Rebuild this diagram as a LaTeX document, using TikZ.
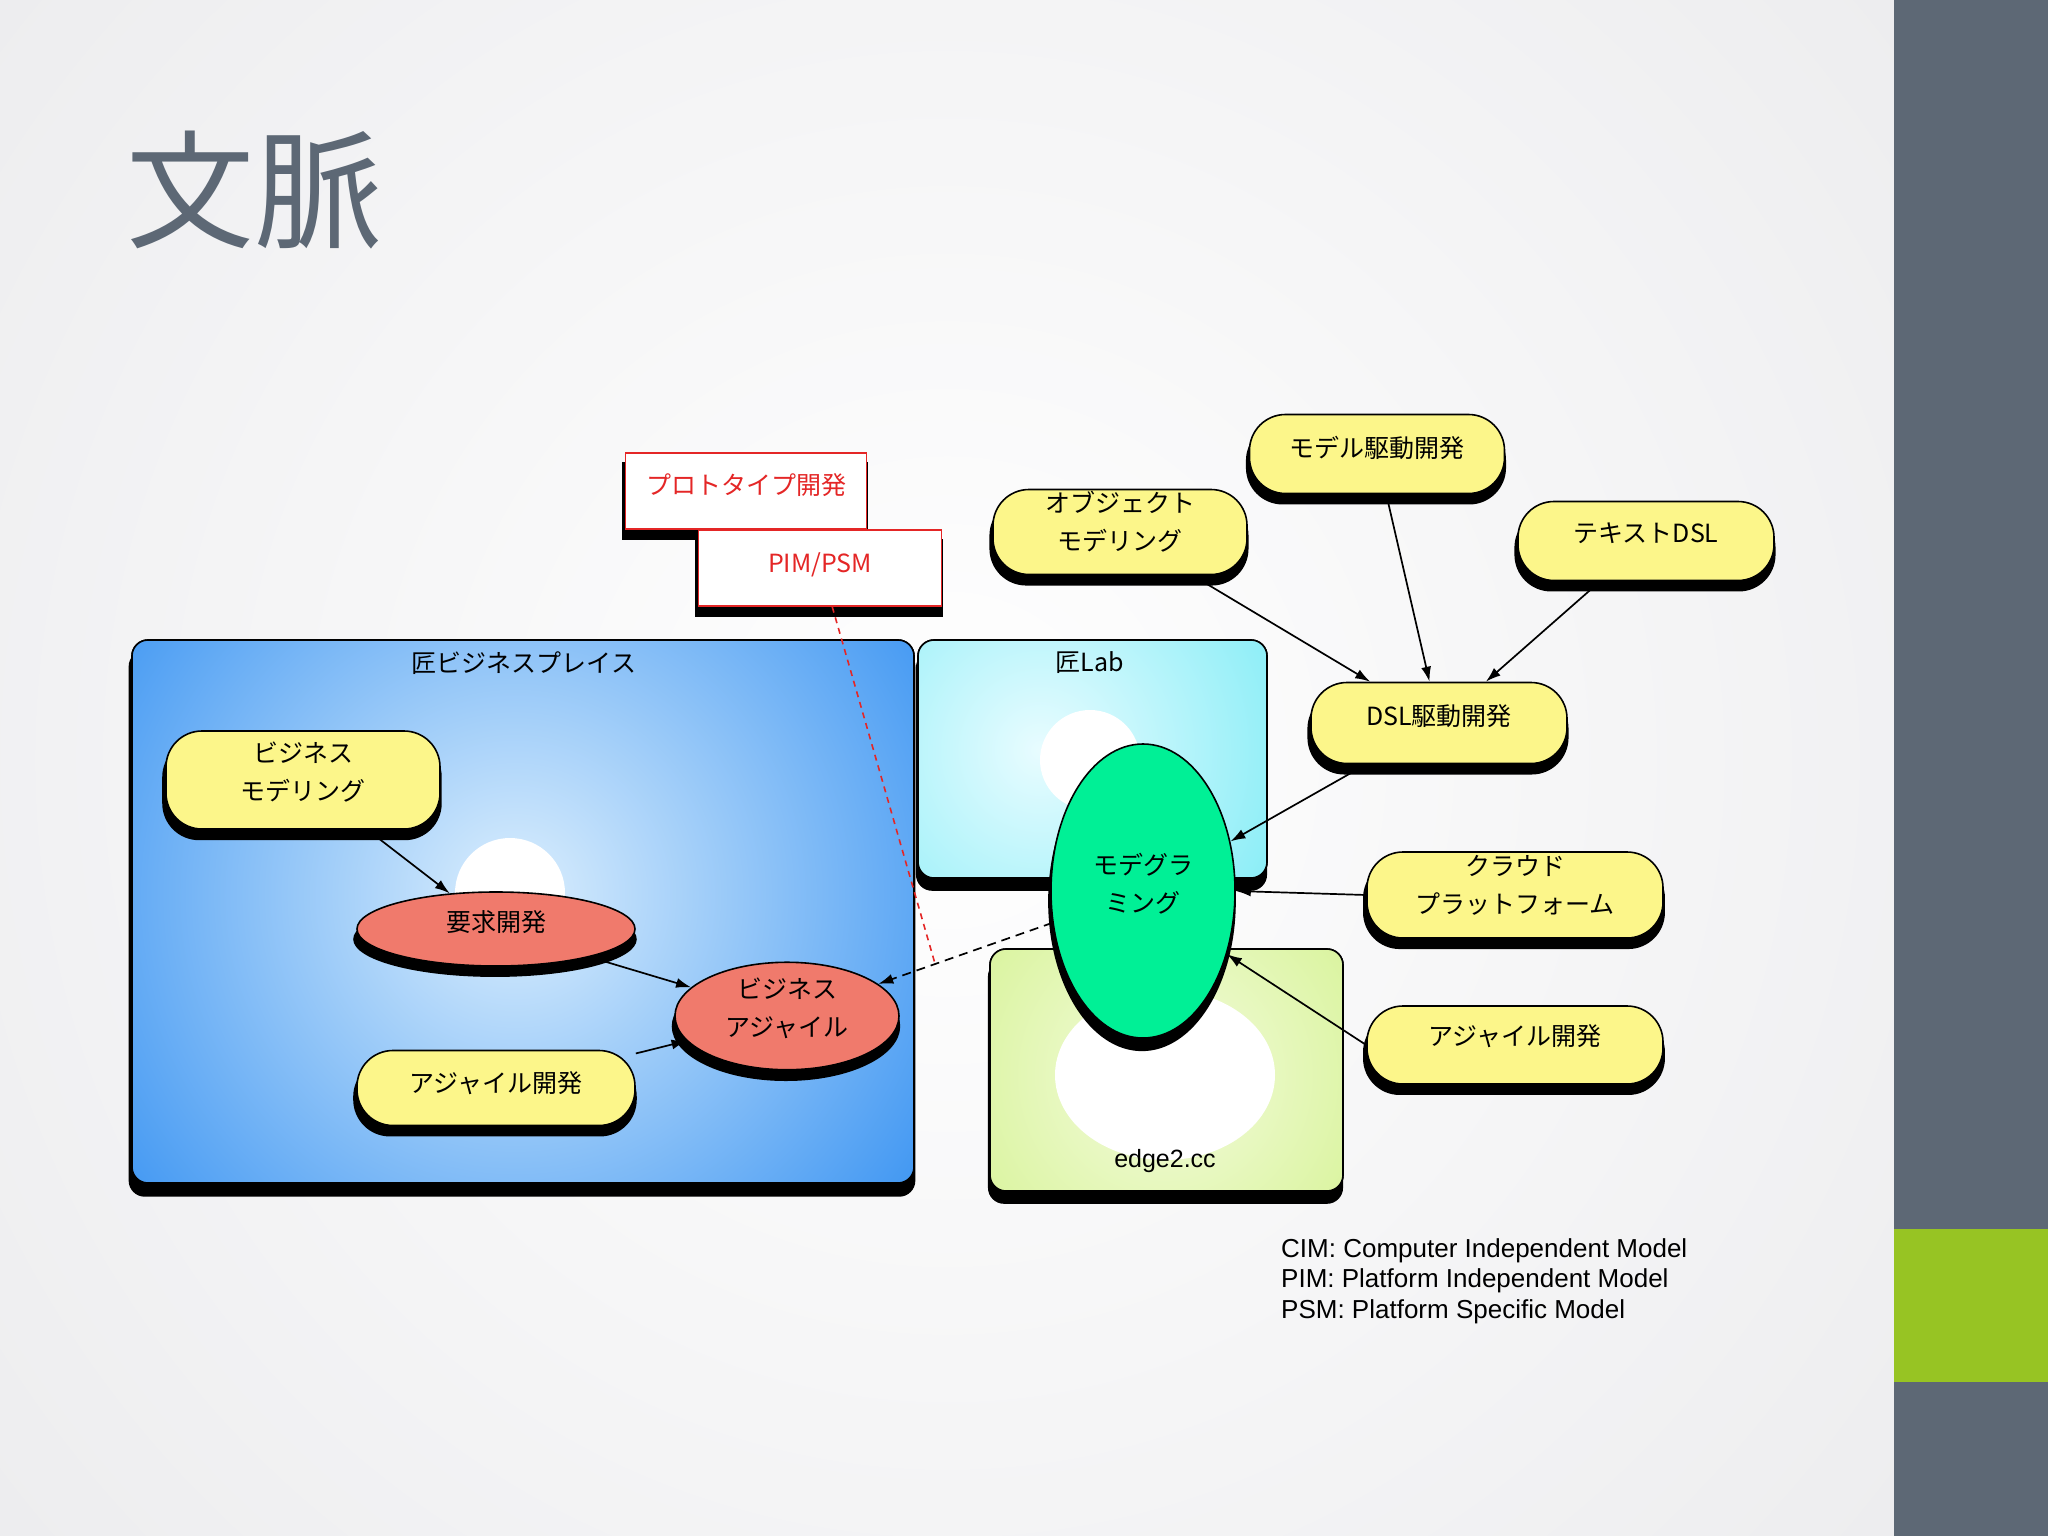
\documentclass[tikz,border=0pt]{standalone}
\usepackage{fontspec}
\setmainfont{Liberation Sans}
\newfontfamily\jp{Noto Sans CJK JP}
\usetikzlibrary{shapes.geometric,shadows,arrows.meta,calc}

\definecolor{slate}{RGB}{93,104,117}
\definecolor{lime}{RGB}{151,196,35}
\definecolor{bgedge}{RGB}{218,218,222}
\definecolor{yel}{RGB}{252,246,138}
\definecolor{salmon}{RGB}{240,122,108}
\definecolor{mint}{RGB}{0,240,150}
\definecolor{blueedge}{RGB}{38,136,240}
\definecolor{bluecore}{RGB}{220,239,253}
\definecolor{cyanedge}{RGB}{128,236,246}
\definecolor{cyancore}{RGB}{232,252,255}
\definecolor{limeedge}{RGB}{206,240,130}
\definecolor{limecore}{RGB}{244,252,222}
\definecolor{pred}{RGB}{228,38,38}

\newcommand\jpf{\jp\fontsize{25bp}{38bp}\selectfont}
\newcommand\up[2]{\raisebox{#1}[\height][\depth]{\begin{tabular}{@{}c@{}}#2\end{tabular}}}

\tikzset{
  sh/.style={drop shadow={shadow xshift=-1bp, shadow yshift=-10bp, shadow scale=1.02, fill=black, opacity=1}},
  bigsh/.style={drop shadow={shadow xshift=-1bp, shadow yshift=-12bp, shadow scale=1.006, fill=black, opacity=1}},
  bigbox/.style={rectangle, rounded corners=16bp, draw=black, line width=1.6bp, inner sep=0pt, outer sep=0pt, bigsh},
  yelnode/.style={rectangle, rounded corners=36bp, draw=black, line width=1.6bp, fill=yel, inner sep=0pt, sh, font=\jpf},
  rednode/.style={ellipse, draw=black, line width=1.6bp, fill=salmon, inner sep=0pt, sh, font=\jpf},
  redbox/.style={rectangle, draw=pred, line width=1.6bp, fill=white, inner sep=0pt, sh, font=\jpf, text=pred},
  boxlabel/.style={font=\jpf, inner sep=0pt},
  conn/.style={line width=1.7bp, -{Latex[length=15bp,width=10bp]}},
  dconn/.style={conn, dash pattern=on 9bp off 6bp},
  rdash/.style={line width=1.6bp, draw=pred, dash pattern=on 6bp off 5bp}
}

\begin{document}
\begin{tikzpicture}[x=1bp,y=-1bp]
\useasboundingbox (0,0) rectangle (2048,1536);
% slide background
\begin{scope}
  \clip (0,0) rectangle (1894,1536);
  \shade[inner color=white, outer color=bgedge] (947,760) circle (2500);
\end{scope}
\fill[slate] (1894,0) rectangle (2048,1536);
\fill[lime] (1894,1229) rectangle (2048,1382);

\node[anchor=west, text=slate, font=\jp\fontsize{128bp}{128bp}\selectfont, inner sep=0pt] (title) at (126,190) {文脈};

% containers
\node[bigbox, fill=blueedge, minimum width=782bp, minimum height=543bp] (bp) at (523,911.5) {};
\begin{scope}
  \clip[rounded corners=16bp] (bp.south west) rectangle (bp.north east);
  \shade[inner color=bluecore, outer color=blueedge] (515,895) circle (580);
  \fill[white] (510,893) circle (55);
\end{scope}
\draw[line width=1.6bp, rounded corners=16bp] (bp.south west) rectangle (bp.north east);

\node[bigbox, fill=cyanedge, minimum width=349bp, minimum height=238bp] (lab) at (1092.5,759) {};
\begin{scope}
  \clip[rounded corners=16bp] (lab.south west) rectangle (lab.north east);
  \shade[inner color=cyancore, outer color=cyanedge] (1040,750) circle (290);
  \fill[white] (1090,760) circle (50);
\end{scope}
\draw[line width=1.6bp, rounded corners=16bp] (lab.south west) rectangle (lab.north east);

\node[bigbox, fill=limeedge, minimum width=353bp, minimum height=242bp] (e2) at (1166.5,1070) {};
\begin{scope}
  \clip[rounded corners=16bp] (e2.south west) rectangle (e2.north east);
  \shade[inner color=limecore, outer color=limeedge] (1165,1075) circle (320);
  \fill[white] (1165,1075) ellipse [x radius=110, y radius=85];
\end{scope}
\draw[line width=1.6bp, rounded corners=16bp] (e2.south west) rectangle (e2.north east);

\node[boxlabel] (bpl) at (524,663) {匠ビジネスプレイス};
\node[boxlabel] (labl) at (1090,663) {匠Lab};
\node[font=\fontsize{25bp}{30bp}\selectfont, inner sep=0pt] (e2l) at (1165,1161) {edge2.cc};

% left diagram
\node[yelnode, minimum width=274bp, minimum height=98bp] (bm) at (303,780) {\up{6bp}{ビジネス\\モデリング}};
\node[rednode, minimum width=278bp, minimum height=74bp] (req) at (496,929) {\up{5bp}{要求開発}};
\node[rednode, minimum width=224bp, minimum height=95bp] (ba) at (787,1016) {\up{6bp}{ビジネス\\アジャイル}};
\node[yelnode, minimum width=278bp, minimum height=75bp] (agl) at (496,1088) {\up{3bp}{アジャイル開発}};

% centre
\node[ellipse, draw=black, line width=1.6bp, fill=mint, inner sep=0pt, sh, font=\jpf, minimum width=184bp, minimum height=294bp] (mog) at (1143,891) {\up{5bp}{モデグラ\\ミング}};

% right diagram
\node[yelnode, minimum width=254bp, minimum height=85bp] (obj) at (1120,532) {\up{8bp}{オブジェクト\\モデリング}};
\node[yelnode, minimum width=255bp, minimum height=79bp] (mdd) at (1377,454) {\up{4bp}{モデル駆動開発}};
\node[yelnode, minimum width=256bp, minimum height=79bp] (txt) at (1646,541) {\up{6bp}{テキストDSL}};
\node[yelnode, minimum width=256bp, minimum height=81bp] (dsl) at (1439,723) {\up{5bp}{DSL駆動開発}};
\node[yelnode, minimum width=296bp, minimum height=86bp] (cloud) at (1515,895) {\up{8bp}{クラウド\\プラットフォーム}};
\node[yelnode, minimum width=296bp, minimum height=78bp] (agr) at (1515,1045) {\up{7bp}{アジャイル開発}};

% red boxes
\node[redbox, minimum width=241bp, minimum height=76bp] (proto) at (746,491) {\up{4bp}{プロトタイプ開発}};
\node[redbox, minimum width=243bp, minimum height=76bp] (pim) at (820,568) {\up{3bp}{PIM/PSM}};

% connectors
\draw[conn] (bm) -- (req);
\draw[conn] (req) -- (ba);
\draw[conn] (agl) -- (ba);
\draw[dconn] (mog) -- (ba);
\coordinate (junc) at ($(mog)!0.584!(ba)$);
\draw[rdash] ($(pim.south west)!0.55!(pim.south east)$) -- (junc);
\draw[conn] (obj) -- (dsl);
\draw[conn] (mdd) -- (dsl);
\draw[conn] (txt) -- (dsl);
\draw[conn] (dsl) -- (mog);
\draw[conn] (cloud.west) -- (mog.east);
\draw[conn] (agr.west) -- (mog.-37);

% legend
\node[anchor=north west, align=left, inner sep=0pt, font=\fontsize{26bp}{30.5bp}\selectfont] (leg) at (1281,1238)
  {CIM: Computer Independent Model\\PIM: Platform Independent Model\\PSM: Platform Specific Model};
\end{tikzpicture}
\end{document}
